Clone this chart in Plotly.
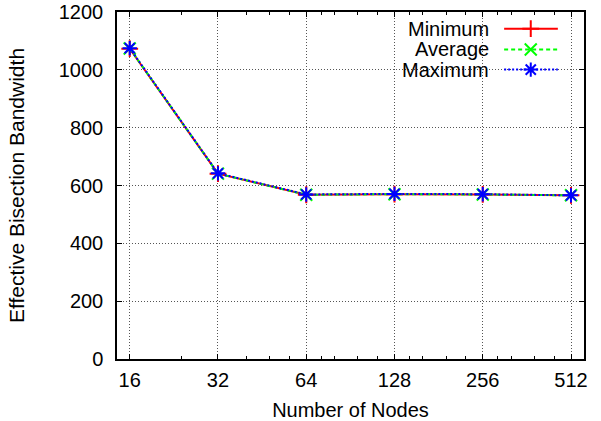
import plotly.graph_objects as go

nodes = [16, 32, 64, 128, 256, 512]
minimum = [1073, 641, 568, 570, 569, 566]
average = [1074, 641, 568, 570, 569, 566]
maximum = [1075, 642, 569, 571, 570, 566]
series_names = ["Minimum", "Average", "Maximum"]
x_ticks = [16, 32, 64, 128, 256, 512]
x_minor = [24, 40, 48, 56, 72, 80, 96, 112, 144, 160, 192, 224, 288, 320, 384, 448]
y_ticks = [0, 200, 400, 600, 800, 1000, 1200]

FONT = "Liberation Sans, Arial, Helvetica, sans-serif"
colors = ["#ff0000", "#00ff00", "#0000ff"]
dashes = ["solid", "4px,3px", "2px,2px"]
symbols = ["cross-thin", "x-thin", "asterisk"]

fig = go.Figure()
for name, vals, c, d, s in zip(series_names, [minimum, average, maximum], colors, dashes, symbols):
    fig.add_trace(go.Scatter(
        x=nodes, y=vals, mode="lines+markers", name=name,
        line=dict(color=c, width=2, dash=d),
        marker=dict(symbol=s, size=12, color=c, line=dict(color=c, width=2)),
        showlegend=False,
    ))

# custom gnuplot-style key (text left, sample right) on an overlay axis
key_y = [0.952, 0.892, 0.834]
for name, c, d, s, ky in zip(series_names, colors, dashes, symbols, key_y):
    fig.add_trace(go.Scatter(
        x=[0.829, 0.944], y=[ky, ky], mode="lines", xaxis="x2", yaxis="y2",
        line=dict(color=c, width=2, dash=d), showlegend=False, hoverinfo="skip",
    ))
    fig.add_trace(go.Scatter(
        x=[0.886], y=[ky], mode="markers", xaxis="x2", yaxis="y2",
        marker=dict(symbol=s, size=12, color=c, line=dict(color=c, width=2)),
        showlegend=False, hoverinfo="skip",
    ))
    fig.add_annotation(
        x=0.798, y=ky, xref="x2", yref="y2", text=name, showarrow=False,
        xanchor="right", yanchor="middle", borderpad=0,
        font=dict(family=FONT, size=20, color="black"),
    )

fig.update_layout(
    width=601, height=421,
    margin=dict(l=117, r=17, t=12, b=62, autoexpand=False),
    paper_bgcolor="white", plot_bgcolor="white",
    font=dict(family=FONT, size=20, color="black"),
    xaxis=dict(
        type="log", range=[1.1607, 2.7536], automargin=False,
        tickvals=x_ticks, ticktext=[str(v) for v in x_ticks],
        ticks="inside", ticklen=5, tickcolor="black", tickwidth=1,
        showline=True, linecolor="black", linewidth=1.5, mirror="ticks",
        showgrid=True, gridcolor="#555555", griddash="1px,2px", gridwidth=1,
        zeroline=False,
        minor=dict(tickvals=x_minor, ticks="inside", ticklen=3, tickcolor="black", showgrid=False),
        title=dict(text="Number of Nodes", font=dict(size=20), standoff=13),
        tickfont=dict(size=20),
        ticklabelstandoff=2,
        ticklabeloverflow="allow",
    ),
    yaxis=dict(
        range=[0, 1200], tickvals=y_ticks, automargin=False,
        ticks="inside", ticklen=5, tickcolor="black", tickwidth=1,
        showline=True, linecolor="black", linewidth=1.5, mirror="ticks",
        showgrid=True, gridcolor="#555555", griddash="1px,2px", gridwidth=1,
        zeroline=False,
        title=dict(text="Effective Bisection Bandwidth", font=dict(size=21), standoff=28),
        tickfont=dict(size=20),
        ticklabelstandoff=8,
        ticklabeloverflow="allow",
    ),
    xaxis2=dict(overlaying="x", range=[0, 1], visible=False, fixedrange=True),
    yaxis2=dict(overlaying="y", range=[0, 1], visible=False, fixedrange=True),
    showlegend=False,
)

fig.write_html("out.html", config={"displayModeBar": False},
               post_script="document.body.style.margin='0';")
